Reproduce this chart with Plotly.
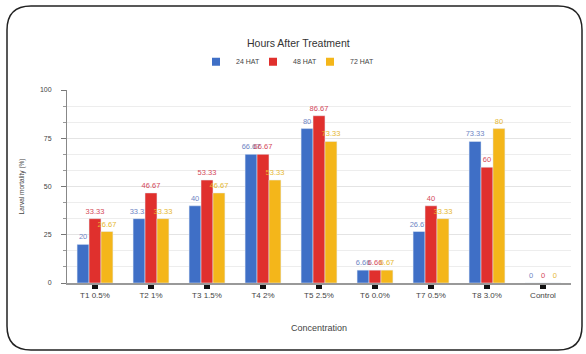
import plotly.graph_objects as go

categories = ["T1 0.5%", "T2 1%", "T3 1.5%", "T4 2%", "T5 2.5%", "T6 0.0%", "T7 0.5%", "T8 3.0%", "Control"]
hat24 = [20, 33.33, 40, 66.67, 80, 6.66, 26.67, 73.33, 0]
hat48 = [33.33, 46.67, 53.33, 66.67, 86.67, 6.66, 40, 60, 0]
hat72 = [26.67, 33.33, 46.67, 53.33, 73.33, 6.67, 33.33, 80, 0]
series_names = ["24 HAT", "48 HAT", "72 HAT"]
colors = ["#3f6fc6", "#e0302d", "#f4b61a"]
label_colors = ["#6f86c4", "#d44a5a", "#e6b832"]

def fmt(v):
    return ("%g" % v)

fig = go.Figure()
for name, vals, c, lc in zip(series_names, [hat24, hat48, hat72], colors, label_colors):
    fig.add_trace(go.Bar(
        x=categories, y=vals, name=name, marker_color=c, showlegend=False,
        text=[fmt(v) for v in vals], textposition="outside", constraintext="none",
        textfont=dict(color=lc, size=7.5, family="Liberation Sans"),
        cliponaxis=False,
    ))
for name, c in zip(series_names, colors):
    fig.add_trace(go.Scatter(
        x=[None], y=[None], mode="markers", name=name,
        marker=dict(symbol="square", size=8, color=c),
    ))
# invisible spacer entry so the last legend label is not clipped
fig.add_trace(go.Scatter(x=[None], y=[None], mode="markers", name="\u00a0",
                         marker=dict(color="rgba(0,0,0,0)")))

W, H = 586, 354
L, R, T, B = 67, 15, 90, 71
pw, ph = W - L - R, H - T - B

def px(x):
    return (x - L) / pw

def py(y):
    return (H - B - y) / ph

x0, x1, y0, y1, r = 7, 582, 6, 350, 24
path = (f"M {px(x0+r)},{py(y0)} L {px(x1-r)},{py(y0)} Q {px(x1)},{py(y0)} {px(x1)},{py(y0+r)} "
        f"L {px(x1)},{py(y1-r)} Q {px(x1)},{py(y1)} {px(x1-r)},{py(y1)} "
        f"L {px(x0+r)},{py(y1)} Q {px(x0)},{py(y1)} {px(x0)},{py(y1-r)} "
        f"L {px(x0)},{py(y0+r)} Q {px(x0)},{py(y0)} {px(x0+r)},{py(y0)} Z")

legend_title = "Hours After Treatment" + "\u00a0" * 8

fig.update_layout(
    width=W, height=H,
    margin=dict(l=L, r=R, t=T, b=B, autoexpand=False),
    paper_bgcolor="white", plot_bgcolor="white",
    font=dict(family="Liberation Sans", size=7, color="#444"),
    barmode="group", bargap=0.36, bargroupgap=0,
    legend=dict(
        orientation="h", x=px(196), xanchor="left", y=1.07, yanchor="bottom",
        title=dict(text=legend_title, side="top center", font=dict(size=10.5, color="#333")),
        font=dict(size=7, color="#444"), entrywidth=12, entrywidthmode="pixels",
    ),
    shapes=[dict(type="path", xref="paper", yref="paper", path=path,
                 line=dict(color="#222", width=1.5), layer="above")],
    xaxis=dict(
        showline=True, linecolor="#999", linewidth=1.5, automargin=False,
        ticks="outside", ticklen=4, tickwidth=6, tickcolor="#111",
        tickfont=dict(size=8, color="#444"),
        title=dict(text="Concentration", font=dict(size=9, color="#444"), standoff=25),
    ),
    yaxis=dict(
        range=[0, 100], dtick=25, showline=True, linecolor="#888", linewidth=1, automargin=False,
        ticks="outside", ticklen=5, tickcolor="#777", ticklabelstandoff=8,
        showgrid=True, gridcolor="#e4e4e4", gridwidth=1,
        minor=dict(dtick=25/3, showgrid=True, gridcolor="#ededed", ticks="outside", ticklen=3, tickcolor="#999"),
        tickfont=dict(size=7, color="#444"),
        zeroline=False,
        title=dict(text="Larval mortality (%)", font=dict(size=6.5, color="#444"), standoff=14),
    ),
)

fig.write_html("out.html", config={"displayModeBar": False},
               post_script="document.body.style.margin='0';document.body.style.overflow='hidden';")
